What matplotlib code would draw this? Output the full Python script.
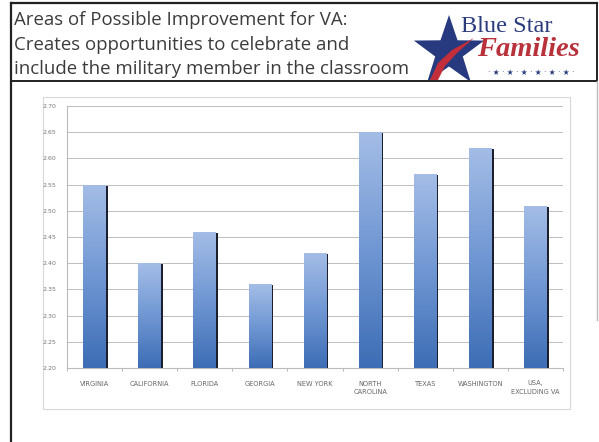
import matplotlib.pyplot as plt
import numpy as np
from matplotlib.colors import LinearSegmentedColormap
from matplotlib.patches import Polygon, Rectangle

# chart data
states = ['VIRGINIA', 'CALIFORNIA', 'FLORIDA', 'GEORGIA', 'NEW YORK',
          'NORTH\nCAROLINA', 'TEXAS', 'WASHINGTON', 'USA,\nEXCLUDING VA']
scores = [2.55, 2.40, 2.46, 2.36, 2.42, 2.65, 2.57, 2.62, 2.51]
y_ticks = [2.20, 2.25, 2.30, 2.35, 2.40, 2.45, 2.50, 2.55, 2.60, 2.65, 2.70]

title_lines = ['Areas of Possible Improvement for VA:',
               'Creates opportunities to celebrate and',
               'include the military member in the classroom']

W, H = 599, 442
fig = plt.figure(figsize=(W / 100, H / 100), dpi=100)

# background layer in pixel coordinates (frame, title, logo)
bg = fig.add_axes([0, 0, 1, 1], zorder=0)
bg.set_xlim(0, W)
bg.set_ylim(H, 0)
bg.axis('off')

bg.plot([11, 11], [3, H], color='#222222', lw=1.6)
bg.plot([11, 597], [3, 3], color='#222222', lw=1.6)
bg.plot([11, 597], [81, 81], color='#222222', lw=1.4)
bg.plot([597, 597], [3, 81], color='#222222', lw=1.4)
bg.plot([597, 597], [81, 320], color='#bbbbbb', lw=1.0)
bg.add_patch(Rectangle((43, 97), 527, 312, fill=False, ec='#d8d8d8', lw=0.8))

for i, line in enumerate(title_lines):
    bg.text(14, 20 + i * 24.5, line, fontsize=13.4, family='Open Sans',
            color='#3c3c3c', va='center', ha='left')

# logo star
ang = np.pi / 2 + np.arange(10) * np.pi / 5
rad = np.where(np.arange(10) % 2 == 0, 37, 14.5)
star = np.column_stack([449 + rad * np.cos(ang), 52 - rad * np.sin(ang)])
bg.add_patch(Polygon(star, closed=True, fc='#27397f', ec='none'))
bg.add_patch(Polygon([(430, 80), (438, 63), (452, 50), (474, 38),
                      (458, 52), (445, 66), (438, 80)],
                     closed=True, fc='#c22f3a', ec='none'))
bg.text(461, 26, 'Blue Star', fontsize=17.5, family='Liberation Serif',
        color='#2b3c7e', va='center', ha='left')
bg.text(477, 49, 'Families', fontsize=20.5, family='Liberation Serif',
        weight='bold', style='italic', color='#b9323b', va='center', ha='left')
bg.text(531, 72, '\u00b7 \u2605 \u00b7 \u2605 \u00b7 \u2605 \u00b7 \u2605 \u00b7 \u2605 \u00b7 \u2605 \u00b7',
        fontsize=5.5, family='DejaVu Sans', color='#2b3c7e', va='center', ha='center')

# main chart
ax = fig.add_axes([67 / W, 1 - 368 / H, 496 / W, 262 / H], zorder=1)
ax.set_facecolor('none')

y_min, y_max = y_ticks[0], y_ticks[-1]
x = np.arange(len(states))
bw = 0.41
vals = np.array(scores)

ax.bar(x + 0.035, vals - y_min - 0.002, bottom=y_min, width=bw,
       color='#1b1f2e', zorder=2)
bars = ax.bar(x, vals - y_min, bottom=y_min, width=bw, color='#6f95d2', zorder=3)

cmap = LinearSegmentedColormap.from_list('barfill', ['#3d6db5', '#7097d3', '#a4bde6'])
grad = np.linspace(0, 1, 256).reshape(-1, 1)
for rect in bars:
    x0, y0 = rect.get_x(), rect.get_y()
    im = ax.imshow(grad, extent=[x0, x0 + rect.get_width(), y0, y0 + rect.get_height()],
                   origin='lower', cmap=cmap, aspect='auto', zorder=4)
    im.set_clip_path(rect)

ax.set_xlim(-0.5, len(states) - 0.5)
ax.set_ylim(y_min, y_max)
ax.set_yticks(y_ticks)
ax.set_yticklabels(['%.2f' % t for t in y_ticks], fontsize=4.5, color='#777777')
ax.set_xticks(x)
ax.set_xticklabels(states, fontsize=4.8, color='#666666', linespacing=1.6)
ax.tick_params(axis='y', length=0, pad=8)
ax.tick_params(axis='x', length=0, pad=9)
ax.set_xticks(np.arange(len(states) + 1) - 0.5, minor=True)
ax.tick_params(axis='x', which='minor', length=2, color='#aaaaaa')

ax.grid(axis='y', color='#bdbdbd', lw=0.7)
ax.set_axisbelow(True)
for side in ['top', 'right']:
    ax.spines[side].set_visible(False)
ax.spines['left'].set_color('#bbbbbb')
ax.spines['bottom'].set_color('#bbbbbb')
ax.spines['left'].set_linewidth(0.8)
ax.spines['bottom'].set_linewidth(0.8)

fig.savefig('out.png', dpi=100)
